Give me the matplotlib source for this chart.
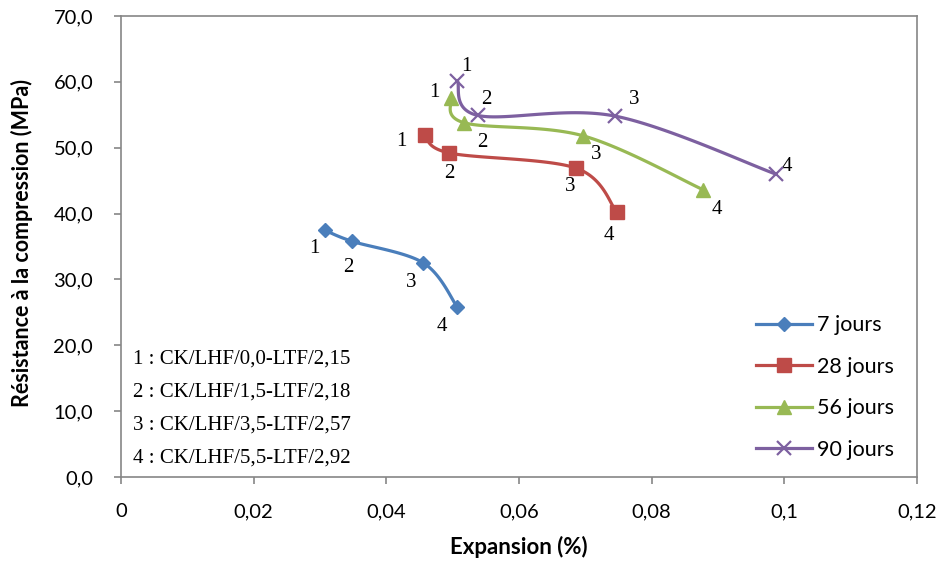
"""Compressive strength vs. expansion, four curing ages (Excel-style smoothed lines)."""
import numpy as np
import matplotlib
matplotlib.use("Agg")
import matplotlib.pyplot as plt
from matplotlib.ticker import FuncFormatter

# data
SERIES = ["7 jours", "28 jours", "56 jours", "90 jours"]
x_7 = [0.0307, 0.0348, 0.0456, 0.0507]
y_7 = [37.5, 35.8, 32.5, 25.8]
x_28 = [0.0458, 0.0495, 0.0686, 0.0747]
y_28 = [52.0, 49.2, 46.9, 40.3]
x_56 = [0.0498, 0.0517, 0.0697, 0.0878]
y_56 = [57.6, 53.8, 51.8, 43.6]
x_90 = [0.0507, 0.0538, 0.0745, 0.0987]
y_90 = [60.2, 54.9, 54.8, 46.0]
POINT_LABELS = ["1", "2", "3", "4"]
MIX_NOTES = ["1 : CK/LHF/0,0-LTF/2,15",
             "2 : CK/LHF/1,5-LTF/2,18",
             "3 : CK/LHF/3,5-LTF/2,57",
             "4 : CK/LHF/5,5-LTF/2,92"]

COLORS = ["#4a7ebb", "#be4b48", "#98b954", "#7d60a0"]
MARKERS = ["D", "s", "^", "x"]
MSIZES = [7, 10, 10, 10]
# label offsets in pixels (dx, dy up-positive), per series / point
OFFSETS = [
    [(-10, -18), (-4, -26), (-12, -20), (-15, -19)],
    [(-23, -7), (0, -21), (-6, -18), (-8, -24)],
    [(-17, 5), (18, -20), (13, -19), (13, -20)],
    [(9, 14), (8, 16), (19, 17), (11, 8)],
]


def smooth(xs, ys, n=40):
    """Excel-like smoothing: cubic Bezier with control points at 1/6 of neighbour span."""
    p = np.column_stack([xs, ys]).astype(float)
    ext = np.vstack([p[0], p, p[-1]])
    out = []
    t = np.linspace(0, 1, n)[:, None]
    for i in range(len(p) - 1):
        p0, p3 = p[i], p[i + 1]
        c1 = p0 + (ext[i + 2] - ext[i]) / 6
        c2 = p3 - (ext[i + 3] - ext[i + 1]) / 6
        seg = ((1 - t) ** 3) * p0 + 3 * ((1 - t) ** 2) * t * c1 + 3 * (1 - t) * t ** 2 * c2 + t ** 3 * p3
        out.append(seg if i == 0 else seg[1:])
    s = np.vstack(out)
    return s[:, 0], s[:, 1]


fig = plt.figure(figsize=(9.39, 5.61), dpi=100)
ax = fig.add_axes([121 / 939, 84 / 561, 796 / 939, 461 / 561])

data = [(x_7, y_7), (x_28, y_28), (x_56, y_56), (x_90, y_90)]
for k, (xs, ys) in enumerate(data):
    sx, sy = smooth(xs, ys)
    ax.plot(sx, sy, color=COLORS[k], lw=2.3, solid_capstyle="round", zorder=3)
    mew = 1.6 if MARKERS[k] == "x" else 1
    ax.plot(xs, ys, ls="none", marker=MARKERS[k], ms=MSIZES[k], color=COLORS[k],
            mew=mew, zorder=4)
    ax.plot([], [], color=COLORS[k], lw=2.3, marker=MARKERS[k], ms=MSIZES[k],
            mew=mew, label=SERIES[k])
    for j, (xv, yv) in enumerate(zip(xs, ys)):
        dx, dy = OFFSETS[k][j]
        ax.annotate(POINT_LABELS[j], (xv, yv), xytext=(dx, dy), textcoords="offset pixels",
                    ha="center", va="center", fontsize=15, family="Liberation Serif")

for i, note in enumerate(MIX_NOTES):
    ax.text(12 / 796, (461 - (359 - 16) - 33 * i) / 461, note,
            transform=ax.transAxes, ha="left", va="center",
            fontsize=15, family="Liberation Serif")

ax.set_xlim(0, 0.12)
ax.set_ylim(0, 70)
ax.set_xticks(np.arange(0, 0.121, 0.02))
ax.set_yticks(np.arange(0, 71, 10))
ax.xaxis.set_major_formatter(FuncFormatter(
    lambda v, _: "0" if abs(v) < 1e-9 else f"{v:.2f}".rstrip("0").replace(".", ",")))
ax.yaxis.set_major_formatter(FuncFormatter(lambda v, _: f"{v:.1f}".replace(".", ",")))
for s in ax.spines.values():
    s.set_color("#868686")
    s.set_linewidth(1.2)
ax.tick_params(direction="out", length=5, width=1.2, color="#868686", labelsize=14.5)
ax.tick_params(axis="x", pad=14)
ax.tick_params(axis="y", pad=15)
for lab in ax.get_xticklabels() + ax.get_yticklabels():
    lab.set_family("Lato")

ax.set_xlabel("Expansion (%)", fontsize=16, fontweight="bold", family="Lato")
ax.set_ylabel("Résistance à la compression (MPa)", fontsize=15.5, fontweight="bold",
              family="Lato")
ax.xaxis.set_label_coords((519 - 121) / 796, (477 - 536) / 461)
ax.yaxis.set_label_coords((33 - 121) / 796, (477 - 243) / 461)

ax.legend(loc="center left", bbox_to_anchor=(756 / 939, 1 - 387.5 / 561),
          bbox_transform=fig.transFigure, frameon=False, borderpad=0, borderaxespad=0,
          prop={"family": "Lato", "size": 15.5}, handlelength=2.6, labelspacing=1.0,
          handletextpad=0.25)

fig.savefig("out.png", dpi=100)
